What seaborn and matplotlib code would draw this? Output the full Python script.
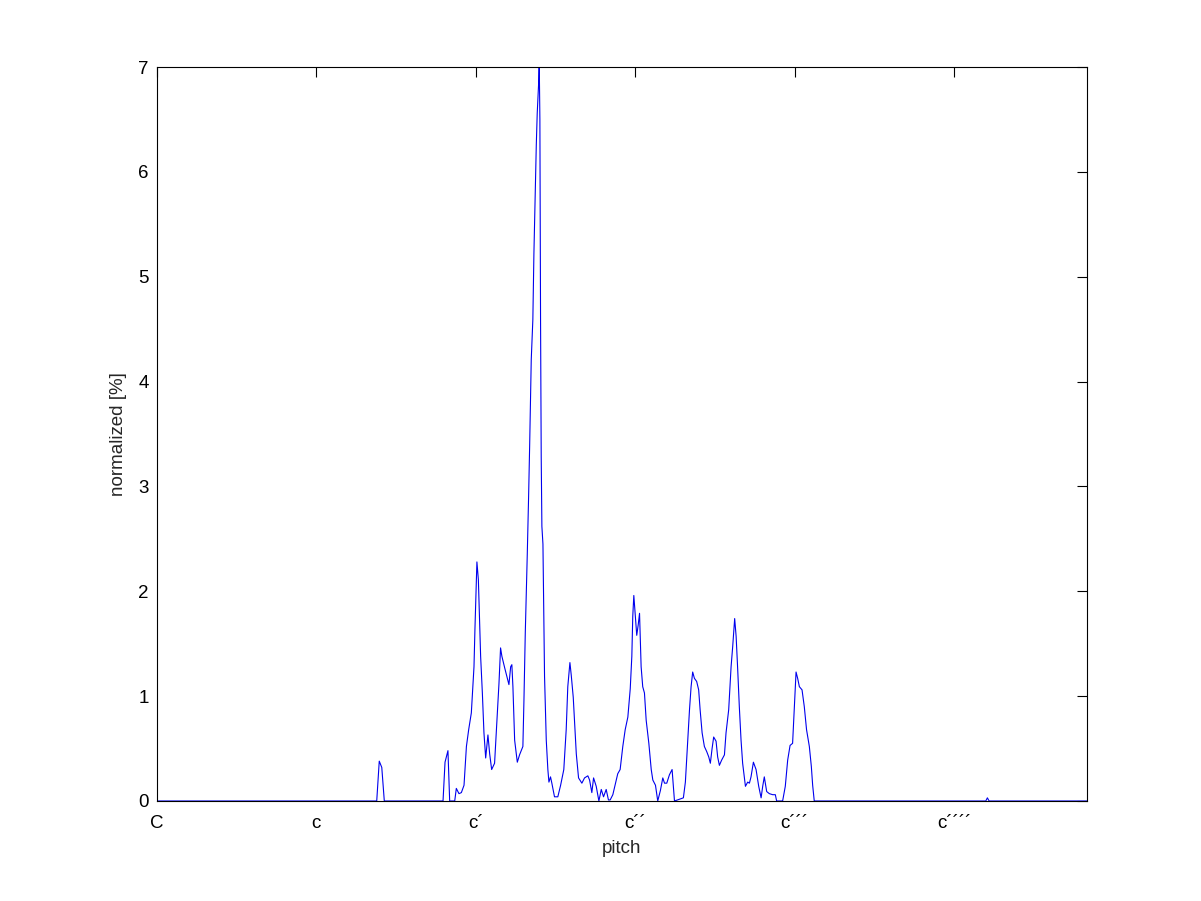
import matplotlib
matplotlib.use("Agg")
import matplotlib.pyplot as plt
import seaborn as sns
import pandas as pd

# pitch in semitones above C (great octave), value in percent
pitch = [0.00, 16.54, 16.73, 16.92, 17.11, 21.53, 21.68, 21.90, 22.03, 22.41,
         22.53, 22.73, 22.91, 23.11, 23.29, 23.46, 23.66, 23.86, 23.93, 24.08,
         24.19, 24.36, 24.49, 24.61, 24.74, 24.91, 25.04, 25.19, 25.41, 25.62,
         25.74, 25.86, 25.96, 26.17, 26.37, 26.49, 26.62, 26.71, 26.79, 26.92,
         27.12, 27.29, 27.54, 27.62, 27.72, 27.87, 27.97, 28.05, 28.17, 28.29,
         28.37, 28.47, 28.55, 28.62, 28.72, 28.77, 28.82, 28.87, 28.92, 28.97,
         29.05, 29.12, 29.17, 29.30, 29.42, 29.50, 29.62, 29.72, 29.92, 30.17,
         30.38, 30.62, 30.80, 30.92, 31.08, 31.18, 31.33, 31.56, 31.73, 31.98,
         32.18, 32.43, 32.56, 32.73, 32.86, 33.06, 33.26, 33.44, 33.61, 33.81,
         33.98, 34.11, 34.31, 34.51, 34.68, 34.86, 35.06, 35.24, 35.44, 35.62,
         35.74, 35.81, 35.89, 35.99, 36.11, 36.22, 36.32, 36.44, 36.56, 36.69,
         36.82, 37.02, 37.20, 37.32, 37.52, 37.69, 37.89, 38.07, 38.20, 38.37,
         38.57, 38.77, 38.95, 39.62, 39.77, 39.95, 40.08, 40.20, 40.32, 40.45,
         40.62, 40.77, 40.88, 41.03, 41.20, 41.38, 41.53, 41.65, 41.78, 41.90,
         42.08, 42.20, 42.33, 42.50, 42.71, 42.83, 43.03, 43.21, 43.33, 43.48,
         43.59, 43.71, 43.83, 43.96, 44.08, 44.29, 44.46, 44.59, 44.71, 44.89,
         45.09, 45.29, 45.47, 45.59, 45.71, 45.89, 46.09, 46.34, 46.54, 46.64,
         47.09, 47.29, 47.47, 47.65, 47.84, 47.97, 48.10, 48.22, 48.35, 48.55,
         48.72, 48.89, 49.10, 49.25, 49.35, 49.47, 62.38, 62.50, 62.63, 70.00]
normalized = [0.00, 0.00, 0.38, 0.32, 0.00, 0.00, 0.37, 0.48, 0.00, 0.00,
              0.12, 0.07, 0.08, 0.15, 0.52, 0.68, 0.84, 1.28, 1.63, 2.28,
              2.11, 1.38, 1.03, 0.65, 0.41, 0.63, 0.45, 0.30, 0.36, 0.84,
              1.12, 1.46, 1.38, 1.27, 1.17, 1.11, 1.28, 1.30, 1.09, 0.58,
              0.37, 0.44, 0.52, 0.96, 1.60, 2.35, 2.90, 3.39, 4.21, 4.59,
              5.22, 5.80, 6.26, 6.56, 6.83, 7.05, 6.50, 4.59, 3.28, 2.62,
              2.45, 1.76, 1.19, 0.58, 0.30, 0.18, 0.23, 0.17, 0.04, 0.04,
              0.15, 0.30, 0.68, 1.09, 1.32, 1.20, 0.99, 0.45, 0.22, 0.17,
              0.22, 0.24, 0.20, 0.08, 0.22, 0.14, 0.00, 0.11, 0.04, 0.11,
              0.01, 0.01, 0.06, 0.17, 0.26, 0.30, 0.52, 0.68, 0.80, 1.07,
              1.38, 1.76, 1.96, 1.79, 1.58, 1.68, 1.79, 1.28, 1.09, 1.03,
              0.77, 0.55, 0.30, 0.20, 0.15, 0.00, 0.10, 0.22, 0.17, 0.17,
              0.25, 0.30, 0.00, 0.03, 0.18, 0.58, 0.87, 1.09, 1.23, 1.17,
              1.14, 1.06, 0.87, 0.65, 0.52, 0.47, 0.42, 0.36, 0.50, 0.61,
              0.57, 0.42, 0.34, 0.39, 0.44, 0.65, 0.87, 1.28, 1.47, 1.74,
              1.57, 1.25, 0.90, 0.58, 0.36, 0.14, 0.18, 0.17, 0.23, 0.37,
              0.30, 0.14, 0.03, 0.14, 0.23, 0.09, 0.07, 0.06, 0.06, 0.00,
              0.00, 0.14, 0.39, 0.53, 0.55, 0.90, 1.23, 1.17, 1.09, 1.06,
              0.90, 0.68, 0.52, 0.33, 0.15, 0.00, 0.00, 0.03, 0.00, 0.00]

octave_ticks = [0, 12, 24, 36, 48, 60]
octave_labels = ["C", "c", "c\u00b4", "c\u00b4\u00b4", "c\u00b4\u00b4\u00b4", "c\u00b4\u00b4\u00b4\u00b4"]
y_ticks = [0, 1, 2, 3, 4, 5, 6, 7]

sns.set_style("white")
plt.rcParams["font.family"] = ["Liberation Sans", "DejaVu Sans"]

df = pd.DataFrame({"pitch": pitch, "normalized": normalized})

fig = plt.figure(figsize=(12.01, 9.01), dpi=100)
ax = fig.add_axes([0.1307, 0.111, 0.7744, 0.8146])

sns.lineplot(data=df, x="pitch", y="normalized", sort=False, estimator=None,
             color="#0000ee", linewidth=0.8, ax=ax)

ax.set_xlim(0, 70)
ax.set_ylim(0, 7)
ax.set_xticks(octave_ticks)
ax.set_xticklabels(octave_labels)
ax.set_yticks(y_ticks)
ax.tick_params(direction="in", length=7, width=0.8, top=True, right=True,
               labelsize=13.5, colors="black")
ax.tick_params(axis="x", pad=10)
ax.tick_params(axis="y", pad=6)
for s in ax.spines.values():
    s.set_color("black")
    s.set_linewidth(0.8)

ax.set_xlabel("pitch", fontsize=13.5, labelpad=6)
ax.set_ylabel("normalized [%]", fontsize=13.5, labelpad=8)

fig.savefig("out.png", dpi=100, facecolor="white")
